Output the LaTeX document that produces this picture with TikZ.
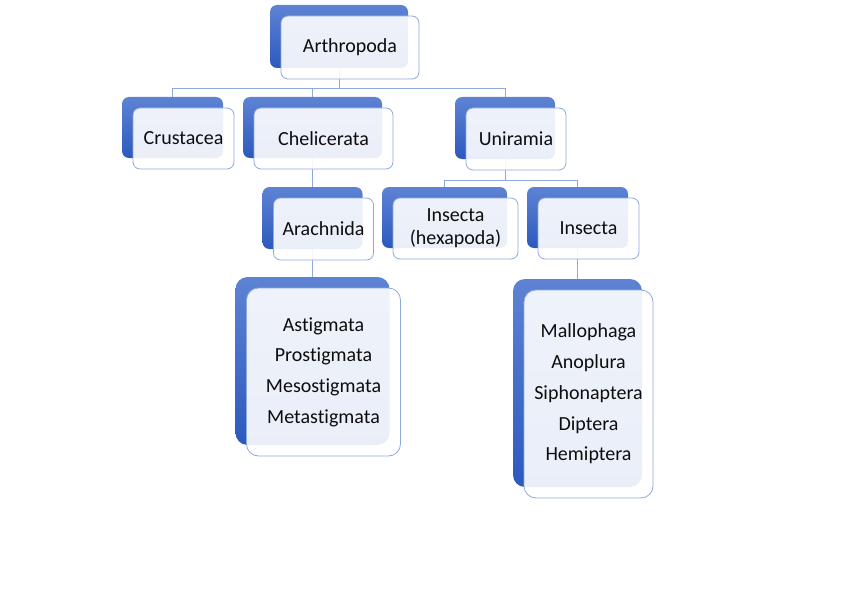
\documentclass[tikz,border=0pt]{standalone}
\usepackage{fontspec}
\setmainfont{Carlito}[Ligatures=NoCommon]
\usetikzlibrary{calc,backgrounds}
\definecolor{backtop}{RGB}{94,131,212}
\definecolor{backbot}{RGB}{44,89,190}
\definecolor{cardline}{RGB}{142,170,219}
\definecolor{linkblue}{RGB}{143,170,220}
\tikzset{
    back/.style={
        rounded corners=7pt,
        top color=backtop,
        bottom color=backbot,
        inner sep=0pt
    },
    bigback/.style={back, rounded corners=12pt},
    card/.style={
        draw=cardline,
        line width=0.8pt,
        rounded corners=7pt,
        fill=white,
        fill opacity=0.9,
        text opacity=1,
        text=black!95,
        align=center,
        inner sep=0pt,
        font=\fontsize{20}{23}\selectfont
    },
    bigcard/.style={card, rounded corners=12pt, font=\fontsize{20}{30.7}\selectfont},
    boxsize/.style 2 args={minimum width=#1, minimum height=#2},
    link/.style={draw=linkblue, line width=0.8pt}
}

\begin{document}
\begin{tikzpicture}[x=1pt, y=-1pt]
    \useasboundingbox (0,0) rectangle (848,599);

    % top level
    \node[back, boxsize={138}{63}] (arth-b) at (339,36.5) {};
    \node[card, boxsize={138}{63}] (arth) at ($(arth-b)+(11,11)$) {Arthropoda};

    % second level
    \node[back, boxsize={101}{61}] (crus-b) at (172.5,127.5) {};
    \node[card, boxsize={101}{61}] (crus) at ($(crus-b)+(11,11)$) {Crustacea};
    \node[back, boxsize={139}{61}] (chel-b) at (312.5,127.5) {};
    \node[card, boxsize={139}{61}] (chel) at ($(chel-b)+(11,11)$) {Chelicerata};
    \node[back, boxsize={100}{62}] (uni-b) at (505,128) {};
    \node[card, boxsize={100}{62}] (uni) at ($(uni-b)+(11,11)$) {Uniramia};

    % third level
    \node[back, boxsize={100}{62}] (arach-b) at (312.5,218) {};
    \node[card, boxsize={100}{62}] (arach) at ($(arach-b)+(11,11)$) {Arachnida};
    \node[back, boxsize={125}{61}] (hexa-b) at (444.5,217.5) {};
    \node[card, boxsize={125}{61}] (hexa) at ($(hexa-b)+(11,11)$) {Insecta\\(hexapoda)};
    \node[back, boxsize={101}{61}] (ins-b) at (577.5,217.5) {};
    \node[card, boxsize={101}{61}] (ins) at ($(ins-b)+(11,11)$) {Insecta};

    % orders
    \node[bigback, boxsize={154}{168}] (acari-b) at (312.5,361) {};
    \node[bigcard, boxsize={154}{168}] (acari) at ($(acari-b)+(11,11)$)
        {Astigmata\\Prostigmata\\Mesostigmata\\Metastigmata};
    \node[bigback, boxsize={129}{208}] (order-b) at (577.5,383) {};
    \node[bigcard, boxsize={129}{208}] (order) at ($(order-b)+(11,11)$)
        {Mallophaga\\Anoplura\\Siphonaptera\\Diptera\\Hemiptera};

    \begin{scope}[on background layer]
        \draw[link] (arth-b.south) -- ++(0,20) -| (crus-b.north);
        \draw[link] (arth-b.south) -- ++(0,20) -| (chel-b.north);
        \draw[link] (arth-b.south) -- ++(0,20) -| (uni-b.north);
        \draw[link] (chel-b.south) -- (arach-b.north);
        \draw[link] (uni-b.south) -- ++(0,21) -| (hexa-b.north);
        \draw[link] (uni-b.south) -- ++(0,21) -| (ins-b.north);
        \draw[link] (arach-b.south) -- (acari-b.north);
        \draw[link] (ins-b.south) -- (order-b.north);
    \end{scope}
\end{tikzpicture}
\end{document}
